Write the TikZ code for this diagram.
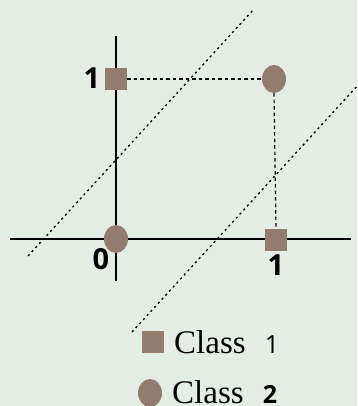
\documentclass[tikz,border=0pt]{standalone}
\usepackage{fontspec}
\setmainfont{Liberation Serif}
\newfontfamily\digitfont{Open Sans}
\definecolor{bg}{HTML}{E4EDE3}
\definecolor{mark}{HTML}{937C6E}
\usetikzlibrary{shapes.geometric}
\begin{document}
\begin{tikzpicture}[x=1pt,y=-1pt,
  sqmark/.style={fill=mark,draw=none,minimum size=22pt,inner sep=0pt},
  cimark/.style={fill=mark,draw=none,ellipse,minimum width=24pt,minimum height=28pt,inner sep=0pt},
  axis/.style={line width=1.2pt},
  guide/.style={dash pattern=on 3.5pt off 3pt,line width=1.2pt},
  sep/.style={dash pattern=on 2.2pt off 3.3pt,line width=1.3pt},
  axlab/.style={font=\digitfont\bfseries\fontsize{29}{30}\selectfont,inner sep=0pt},
  leg/.style={font=\fontsize{33}{36}\selectfont,anchor=west,inner sep=0pt}]
\fill[bg] (0,0) rectangle (357,406);
\useasboundingbox (0,0) rectangle (357,406);
% axes
\coordinate (ytop) at (116,36);
\coordinate (ybot) at (116,281);
\coordinate (xl) at (10,239);
\coordinate (xr) at (351,239);
\draw[axis] (ytop) -- (ybot);
\draw[axis] (xl) -- (xr);
% separators
\coordinate (s1a) at (28,256);
\coordinate (s1b) at (254,9);
\coordinate (s2a) at (132,332);
\coordinate (s2b) at (359,84);
\draw[sep] (s1a) -- (s1b);
\draw[sep] (s2a) -- (s2b);
% points
\node[sqmark] (p01) at (116,79) {};
\node[cimark] (p11) at (274,79) {};
\node[cimark] (p00) at (116,239) {};
\node[sqmark] (p10) at (276,240) {};
\draw[guide] (p01.east) -- (p11.west);
\draw[guide] (p11.south) -- (p10.north);
% labels
\node[axlab] (l1y) at (92,78) {1};
\node[axlab] (l0) at (101,259) {0};
\node[axlab] (l1x) at (276,265) {1};
% legend
\node[sqmark] (lsq) at (153,342) {};
\node[cimark] (lci) at (150,393) {};
\node[leg] (t1) at (174,342) {Class\,\, {\digitfont\fontsize{25}{26}\selectfont 1}};
\node[leg] (t2) at (172,392) {Class\,\, {\digitfont\bfseries\fontsize{25}{26}\selectfont 2}};
\end{tikzpicture}
\end{document}
